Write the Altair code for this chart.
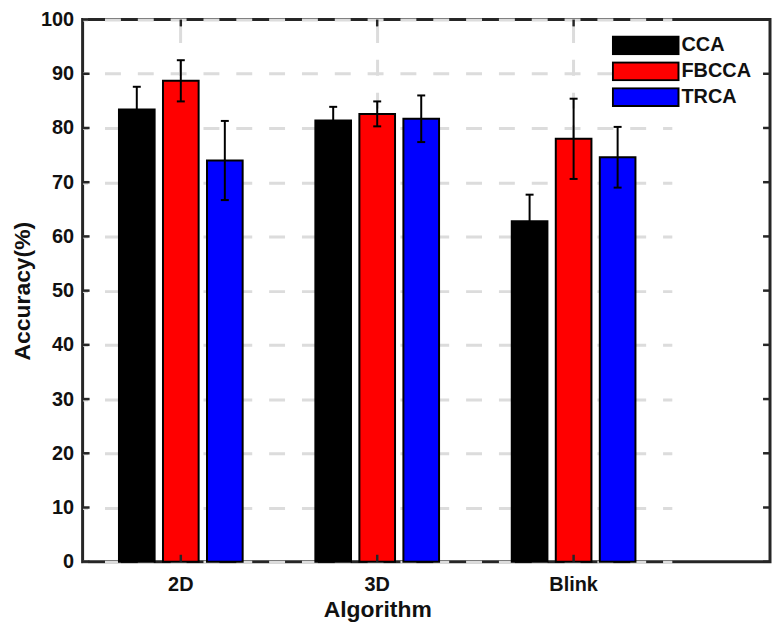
import altair as alt
import pandas as pd

groups = ["2D", "3D", "Blink"]
methods = ["CCA", "FBCCA", "TRCA"]
cca_mean = [83.4, 81.4, 62.8]
cca_err = [4.2, 2.5, 4.9]
fbcca_mean = [88.7, 82.6, 78.0]
fbcca_err = [3.8, 2.3, 7.4]
trca_mean = [74.0, 81.7, 74.6]
trca_err = [7.3, 4.3, 5.6]
y_ticks = list(range(0, 101, 10))
colors = ["#000000", "#ff0000", "#0000ff"]

rows = []
for m, means, errs in zip(methods, [cca_mean, fbcca_mean, trca_mean],
                          [cca_err, fbcca_err, trca_err]):
    for g, v, e in zip(groups, means, errs):
        rows.append({"group": g, "method": m, "acc": v, "err": e})
df = pd.DataFrame(rows)

W, H = 691, 545
step = W / 3.5
FONT = "Liberation Sans"
INK = "#262626"

x_scale = alt.Scale(domain=groups, range=[0, step * 3], paddingInner=0, paddingOuter=0)
xo_scale = alt.Scale(domain=methods, paddingInner=0.19, paddingOuter=0.826)
y_scale = alt.Scale(domain=[0, 100], nice=False)

x_axis = alt.Axis(bandPosition=0.5, grid=True, gridColor="#dcdcdc", gridWidth=3,
                  gridDash=[16, 17], gridDashOffset=26, ticks=False, domain=False,
                  labelAngle=0, labelPadding=13, labelFontSize=20, titleFontSize=23,
                  titlePadding=4)
y_axis = alt.Axis(values=y_ticks, grid=True, gridColor="#dcdcdc", gridWidth=3,
                  gridDash=[16, 17], gridDashOffset=11, ticks=False, domain=False,
                  labelPadding=9, labelFontSize=20, titleFontSize=23, titlePadding=6)

X = alt.X("group:N", scale=x_scale, sort=groups, axis=x_axis, title="Algorithm")
XO = alt.XOffset("method:N", scale=xo_scale, sort=methods)

base = alt.Chart(df)

bars = base.mark_bar(stroke="black", strokeWidth=2).encode(
    x=X,
    xOffset=XO,
    y=alt.Y("acc:Q", scale=y_scale, axis=y_axis, title="Accuracy(%)"),
    color=alt.Color(
        "method:N",
        scale=alt.Scale(domain=methods, range=colors),
        legend=alt.Legend(
            orient="none", legendX=532, legendY=16, title=None,
            symbolType="M-1,-0.27H1V0.27H-1Z", symbolSize=4356, clipHeight=20,
            rowPadding=6, symbolStrokeColor="black", symbolStrokeWidth=2,
            symbolOpacity=1, labelFont=FONT, labelFontWeight="bold",
            labelFontSize=20, labelColor="#111", labelOffset=2, padding=0,
        ),
    ),
)

errs = base.transform_calculate(lo="datum.acc - datum.err", hi="datum.acc + datum.err")
err_rules = errs.mark_rule(color="black", strokeWidth=2).encode(
    x=X, xOffset=XO,
    y=alt.Y("lo:Q", scale=y_scale, axis=y_axis, title="Accuracy(%)"),
    y2="hi:Q",
)
cap_hi = errs.mark_tick(color="black", thickness=2, size=8, opacity=1).encode(
    x=X, xOffset=XO,
    y=alt.Y("hi:Q", scale=y_scale, axis=y_axis, title="Accuracy(%)"),
)
cap_lo = errs.mark_tick(color="black", thickness=2, size=8, opacity=1).encode(
    x=X, xOffset=XO,
    y=alt.Y("lo:Q", scale=y_scale, axis=y_axis, title="Accuracy(%)"),
)

ytick_df = pd.DataFrame({"v": y_ticks})
xtick_df = pd.DataFrame({"group": groups})
YT = alt.Y("v:Q", scale=y_scale, axis=y_axis, title="Accuracy(%)")
left_ticks = alt.Chart(ytick_df).mark_rule(color=INK, strokeWidth=2.5).encode(
    y=YT, x=alt.value(0), x2=alt.value(7))
right_ticks = alt.Chart(ytick_df).mark_rule(color=INK, strokeWidth=2.5).encode(
    y=YT, x=alt.value(W - 7), x2=alt.value(W))
top_ticks = alt.Chart(xtick_df).mark_rule(color=INK, strokeWidth=2.5).encode(
    x=X, y=alt.value(0), y2=alt.value(7))
bottom_ticks = alt.Chart(xtick_df).mark_rule(color=INK, strokeWidth=2.5).encode(
    x=X, y=alt.value(H - 7), y2=alt.value(H))

chart = alt.layer(
    bars, err_rules, cap_hi, cap_lo, left_ticks, right_ticks, top_ticks, bottom_ticks
).properties(
    width=W, height=H, padding={"left": 3, "top": 0, "right": 0, "bottom": 0}
).configure_view(
    stroke=INK, strokeWidth=3
).configure_axis(
    labelFont=FONT, titleFont=FONT, labelFontWeight="bold", titleFontWeight="bold",
    labelColor="#111", titleColor="#111",
)

chart.save("out.html", embed_options={"renderer": "svg", "actions": False})
